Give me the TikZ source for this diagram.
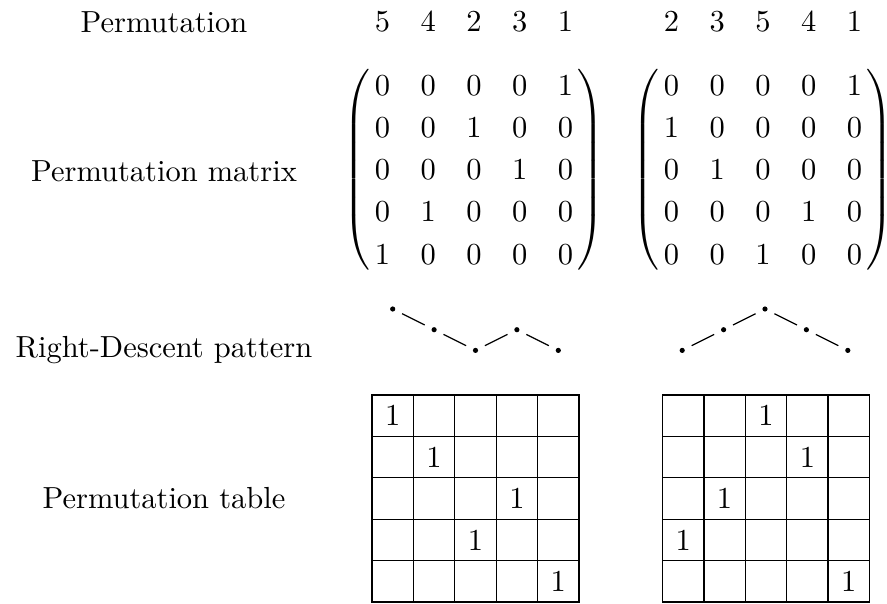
\documentclass[tikz,border=0pt]{standalone}
\usepackage{tikz}
\usetikzlibrary{matrix}
\tikzset{
	entry/.style={inner sep=0pt, minimum width=5pt, minimum height=13.8pt},
	permrow/.style={matrix of math nodes, inner sep=0pt, nodes={entry}, column sep=10pt, row sep=0pt},
	permmat/.style={permrow, left delimiter=(, right delimiter=)},
	permtab/.style={matrix of nodes, nodes in empty cells, inner sep=0pt, nodes={draw, anchor=center, inner sep=0pt, minimum size=13.57pt}, column sep=-0.4pt, row sep=-0.4pt},
	rdot/.style={circle, fill=black, inner sep=0pt, minimum size=1.7pt, outer sep=2.6pt},
	rowlabel/.style={anchor=base}
}

\begin{document}
\begin{tikzpicture}[x=0.3279pt, y=-0.3279pt]
			%%%%% START %%%%%
			\useasboundingbox (0, 0) rectangle (887, 604);
			
			\node[rowlabel] (lblPerm) at (164, 32) {Permutation};
			\node[rowlabel] (lblMat) at (164, 181) {Permutation matrix};
			\node[rowlabel] (lblDesc) at (164, 357) {Right-Descent pattern};
			\node[rowlabel] (lblTab) at (164, 508) {Permutation table};
			
			\matrix (hdrL) [permrow] at (474, 22) {5 & 4 & 2 & 3 & 1\\};
			\matrix (hdrR) [permrow] at (763, 22) {2 & 3 & 5 & 4 & 1\\};
			
			\matrix (matL) [permmat] at (474, 170) {
				0 & 0 & 0 & 0 & 1\\
				0 & 0 & 1 & 0 & 0\\
				0 & 0 & 0 & 1 & 0\\
				0 & 1 & 0 & 0 & 0\\
				1 & 0 & 0 & 0 & 0\\
			};
			\matrix (matR) [permmat] at (763, 170) {
				0 & 0 & 0 & 0 & 1\\
				1 & 0 & 0 & 0 & 0\\
				0 & 1 & 0 & 0 & 0\\
				0 & 0 & 0 & 1 & 0\\
				0 & 0 & 1 & 0 & 0\\
			};
			
			\node[rdot] (dL1) at (392.7, 309) {};
			\node[rdot] (dL2) at (434.1, 329.7) {};
			\node[rdot] (dL3) at (475.5, 350.4) {};
			\node[rdot] (dL4) at (516.9, 329.7) {};
			\node[rdot] (dL5) at (558.3, 350.4) {};
			\draw (dL1) -- (dL2) -- (dL3) -- (dL4) -- (dL5);
			
			\node[rdot] (dR1) at (682.2, 350.4) {};
			\node[rdot] (dR2) at (723.6, 329.7) {};
			\node[rdot] (dR3) at (765, 309) {};
			\node[rdot] (dR4) at (806.4, 329.7) {};
			\node[rdot] (dR5) at (847.8, 350.4) {};
			\draw (dR1) -- (dR2) -- (dR3) -- (dR4) -- (dR5);
			
			\matrix (tabL) [permtab] at (475.5, 498.5) {
				1 &   &   &   &   \\
				  & 1 &   &   &   \\
				  &   &   & 1 &   \\
				  &   & 1 &   &   \\
				  &   &   &   & 1 \\
			};
			\matrix (tabR) [permtab] at (766, 498.5) {
				  &   & 1 &   &   \\
				  &   &   & 1 &   \\
				  & 1 &   &   &   \\
				1 &   &   &   &   \\
				  &   &   &   & 1 \\
			};
			
			%%%%% END %%%%%
\end{tikzpicture}
\end{document}
